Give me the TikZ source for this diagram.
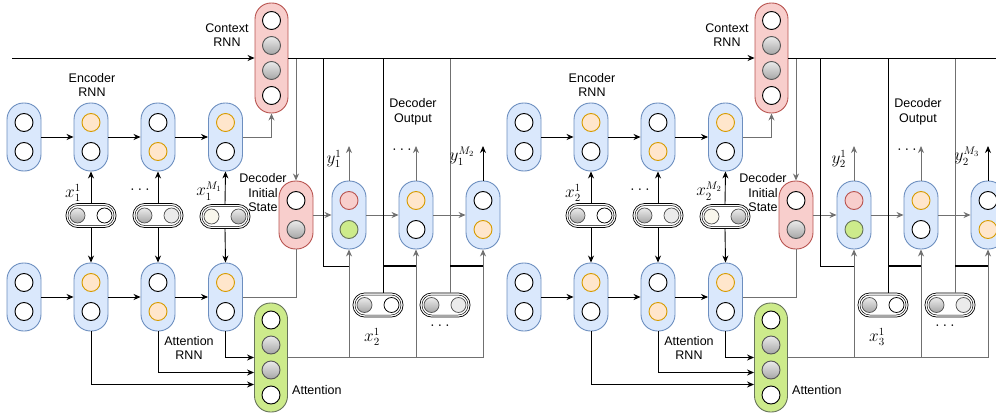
\documentclass[tikz,border=0pt]{standalone}
\usepackage{fontspec}
\setmainfont{Liberation Sans}
\usetikzlibrary{arrows.meta,calc}
\definecolor{bfill}{HTML}{DAE8FC}
\definecolor{bstroke}{HTML}{6C8EBF}
\definecolor{rfill}{HTML}{F8CECC}
\definecolor{rstroke}{HTML}{B85450}
\definecolor{gfill}{HTML}{CDEB8B}
\definecolor{gstroke}{HTML}{66735A}
\definecolor{ofill}{HTML}{FFE6CC}
\definecolor{ostroke}{HTML}{D79B00}
\definecolor{lgfill}{HTML}{EBEBEB}
\definecolor{cream}{HTML}{F8F6EC}
\definecolor{lineg}{HTML}{707070}
\definecolor{dgray}{HTML}{555555}
\newcommand{\twonode}[6]{%
  \node[#4] (#1) at (#2,#3) {};
  \node[#5] (#1t) at (#2,#3-14.5) {};
  \node[#6] (#1b) at (#2,#3+14.5) {};
}
\newcommand{\fournode}[8]{%
  \node[#4] (#1) at (#2,#3) {};
  \node[#5] (#1a) at (#2,#3-37.5) {};
  \node[#6] (#1b) at (#2,#3-12.5) {};
  \node[#7] (#1c) at (#2,#3+12.5) {};
  \node[#8] (#1d) at (#2,#3+37.5) {};
}
\newcommand{\pairnode}[5]{%
  \node[pair] (#1) at (#2,#3) {};
  \node[pairin] (#1i) at (#2,#3) {};
  \node[#4, minimum size=15pt, line width=0.75pt] (#1l) at (#2-13.5,#3) {};
  \node[#5, minimum size=15pt, line width=0.75pt] (#1r) at (#2+13.5,#3) {};
}
\tikzset{
  box/.style={rectangle, minimum width=34pt, minimum height=68pt, rounded corners=16.5pt, line width=0.9pt, inner sep=0pt},
  bnode/.style={box, draw=bstroke, fill=bfill},
  rnode/.style={box, draw=rstroke, fill=rfill},
  tallr/.style={box, draw=rstroke, fill=rfill, minimum width=33pt, minimum height=110pt, rounded corners=16pt},
  tallg/.style={box, draw=gstroke, fill=gfill, minimum width=33pt, minimum height=109pt, rounded corners=16pt},
  pair/.style={rectangle, minimum width=50pt, minimum height=24pt, rounded corners=11.5pt, draw=black, fill=white, line width=0.7pt, inner sep=0pt},
  pairin/.style={rectangle, minimum width=46pt, minimum height=20pt, rounded corners=9.8pt, draw=black, line width=0.5pt, inner sep=0pt},
  dot/.style={circle, minimum size=18pt, inner sep=0pt, line width=0.9pt},
  cw/.style={dot, draw=black, fill=white},
  co/.style={dot, draw=ostroke, fill=ofill},
  cg/.style={dot, draw=dgray, top color=white!92!black, bottom color=black!35},
  cl/.style={dot, draw=dgray, fill=lgfill},
  cc/.style={dot, draw=dgray, fill=cream},
  cp/.style={dot, draw=rstroke, fill=rfill},
  cgr/.style={dot, draw=gstroke, fill=gfill},
  lab/.style={font=\fontsize{12.5}{14.5}\selectfont, align=center, inner sep=0pt},
  mlab/.style={font=\fontsize{16}{18}\selectfont, inner sep=0pt},
  arr/.style={-{Stealth[length=7pt,width=6pt]}, line width=0.9pt},
  ln/.style={line width=0.9pt},
  gr/.style={draw=lineg},
  thick2/.style={line width=2pt},
}
\begin{document}
\begin{tikzpicture}[x=1pt,y=-1pt]
\clip (0,0) rectangle (996,415);
\coordinate (start) at (12,58);
\coordinate (end) at (1000,58);
\foreach \hh/\nn/\ox/\dx/\vx in {1/2/0/0/323,2/3/500/505/820}{
  % context RNN
  \fournode{c\hh}{271.5+\ox}{58}{tallr}{cw}{cg}{cg}{cw}
  % encoder RNN
  \twonode{e\hh1}{24+\ox}{137}{bnode}{cw}{cw}
  \twonode{e\hh2}{91+\ox}{137}{bnode}{co}{cw}
  \twonode{e\hh3}{158+\ox}{137}{bnode}{cw}{co}
  \twonode{e\hh4}{225.5+\ox}{137}{bnode}{co}{cw}
  % attention RNN
  \twonode{a\hh1}{24+\ox}{297}{bnode}{cw}{cw}
  \twonode{a\hh2}{91+\ox}{297}{bnode}{co}{cw}
  \twonode{a\hh3}{158+\ox}{297}{bnode}{cw}{co}
  \twonode{a\hh4}{225.5+\ox}{297}{bnode}{co}{cw}
  % inputs
  \pairnode{i\hh1}{91+\ox}{215.5}{cg}{cw}
  \pairnode{i\hh2}{158+\ox}{215.5}{cg}{cl}
  \pairnode{i\hh3}{225+\ox}{216.5}{cc}{cg}
  % decoder initial state
  \twonode{s\hh}{296+\ox}{215}{rnode}{cw}{cg}
  % attention
  \fournode{g\hh}{271+\ox}{357.5}{tallg}{cw}{cg}{cg}{cw}
  % decoder
  \twonode{d\hh1}{349+\dx}{215}{bnode}{cp}{cgr}
  \twonode{d\hh2}{416+\dx}{215}{bnode}{co}{cw}
  \twonode{d\hh3}{483+\dx}{215}{bnode}{cw}{co}
  % decoder inputs
  \pairnode{j\hh1}{378+\dx}{305}{cg}{cw}
  \pairnode{j\hh2}{445+\dx}{305}{cg}{cl}
  % coordinates
  \coordinate (v\hh) at (\vx,58);
  \coordinate (w\hh1) at (383+\dx,58);
  \coordinate (w\hh2) at (450+\dx,58);
  \coordinate (o\hh1) at (349+\dx,146);
  \coordinate (o\hh2) at (416+\dx,146);
  \coordinate (o\hh3) at (483+\dx,146);
  % encoder connectors
  \draw[arr] (e\hh1.east) -- (e\hh2.west);
  \draw[arr] (e\hh2.east) -- (e\hh3.west);
  \draw[arr] (e\hh3.east) -- (e\hh4.west);
  \draw[arr,gr] (e\hh4.east) -| (c\hh.south);
  \draw[arr] (a\hh1.east) -- (a\hh2.west);
  \draw[arr] (a\hh2.east) -- (a\hh3.west);
  \draw[arr] (a\hh3.east) -- (a\hh4.west);
  \draw[arr] (i\hh1.north) -- (e\hh2.south);
  \draw[arr] (i\hh2.north) -- (e\hh3.south);
  \draw[arr] (i\hh3.north) -- (e\hh4.south);
  \draw[arr] (i\hh1.south) -- (a\hh2.north);
  \draw[arr] (i\hh2.south) -- (a\hh3.north);
  \draw[arr] (i\hh3.south) -- (a\hh4.north);
  \draw[ln,gr] (a\hh4.east) -| (s\hh.south);
  \draw[arr] (a\hh4.south) |- (g\hh.west);
  \draw[arr] (a\hh3.south) |- ($(g\hh.west)+(0,15)$);
  \draw[arr] (a\hh2.south) |- ($(g\hh.west)+(0,27)$);
  \draw[arr,gr] (c\hh.east -| s\hh.north) -- (s\hh.north);
  % decoder connectors
  \draw[arr,gr] (s\hh.east) -- (d\hh1.west);
  \draw[arr,gr] (d\hh1.east) -- (d\hh2.west);
  \draw[arr,gr] (d\hh2.east) -- (d\hh3.west);
  \draw[arr,gr] (d\hh1.north) -- (o\hh1);
  \draw[arr,gr] (d\hh2.north) -- (o\hh2);
  \draw[arr] (d\hh3.north) -- (o\hh3);
  \draw[arr,gr] (g\hh.east) -| (d\hh3.south);
  \draw[arr,gr] (g\hh.east -| d\hh1.south) -- (d\hh1.south);
  \draw[arr,gr] (g\hh.east -| d\hh2.south) -- (d\hh2.south);
  \draw[ln] (v\hh) |- ($(d\hh1.south)+(0,17)$);
  \draw[ln] (w\hh1) -- (w\hh1 |- j\hh1.north);
  \draw[ln,gr] (w\hh2) -- (w\hh2 |- j\hh2.north);
  \draw[thick2] ($(w\hh1 |- d\hh2.south)+(0,17)$) -- ($(d\hh2.south)+(0,17)$);
  \draw[thick2] ($(w\hh2 |- d\hh3.south)+(0,17)$) -- ($(d\hh3.south)+(0,17)$);
  % labels
  \node[lab] (le\hh) at (92+\ox,85) {Encoder\\RNN};
  \node[lab] (lc\hh) at (227+\ox,35) {Context\\RNN};
  \node[lab] (ls\hh) at (263+\ox,193) {Decoder\\Initial\\State};
  \node[lab] (lo\hh) at (413+\dx,112) {Decoder\\Output};
  \node[lab] (lr\hh) at (189+\ox,348) {Attention\\RNN};
  \node[lab, anchor=west] (lg\hh) at (292+\ox,390) {Attention};
  \node[mlab] (lx\hh a) at (73+\ox,193) {$x_{\hh}^{1}$};
  \node[mlab] (lx\hh b) at (140+\ox,190) {$\ldots$};
  \node[mlab] (lx\hh c) at (209+\ox,191) {$x_{\hh}^{M_{\hh}}$};
  \node[mlab] (ly\hh a) at (334+\dx,159) {$y_{\hh}^{1}$};
  \node[mlab] (ly\hh b) at (402+\dx,150) {$\ldots$};
  \node[mlab] (ly\hh c) at (462+\dx,156) {$y_{\hh}^{M_{\nn}}$};
  \node[mlab] (lz\hh a) at (372+\dx,337) {$x_{\nn}^{1}$};
  \node[mlab] (lz\hh b) at (440+\dx,326) {$\ldots$};
}
\draw[arr] (start) -- (c1.west);
\draw[arr] (c1.east) -- (c2.west);
\draw[ln] (c2.east) -- (end);
\end{tikzpicture}
\end{document}
